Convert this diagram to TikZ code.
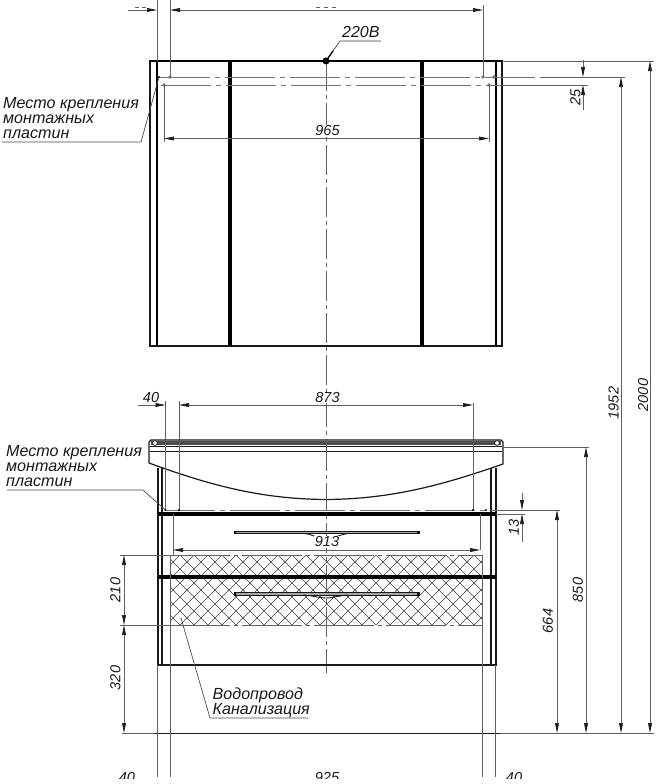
\documentclass[tikz,border=0pt]{standalone}
\usepackage{fontspec}
\setmainfont{Liberation Sans}
\usetikzlibrary{arrows.meta}
\tikzset{
  obj/.style={line width=1.1pt,black!90},
  heavy/.style={line width=3.4pt,black},
  dimline/.style={line width=0.7pt,black!62},
  tipe/.style={-{Stealth[length=10pt,width=3.8pt,inset=0pt,color=black!90]}},
  tipb/.style={{Stealth[length=10pt,width=3.8pt,inset=0pt,color=black!90]}-{Stealth[length=10pt,width=3.8pt,inset=0pt,color=black!90]}},
  axisline/.style={line width=0.6pt,black!55,dash pattern=on 50pt off 5pt on 5pt off 5pt},
  axisv/.style={line width=0.7pt,black!62,dash pattern=on 30pt off 4pt on 4pt off 4pt},
  lbl/.style={inner sep=0pt,font=\itshape\fontsize{14.5}{15}\selectfont,black!90},
  note/.style={inner sep=0pt,anchor=north west,align=left,font=\itshape\fontsize{16.1}{15}\selectfont,black!90},
  dotp/.style={fill=black!55,draw=none},
}
\begin{document}
\begin{tikzpicture}[x=1pt,y=-1pt]
\useasboundingbox (0,0) rectangle (656,784);
\fill[white] (0,0) rectangle (656,784);
% hatching
\begin{scope}
\clip (170.5,555) rectangle (482,625);
\foreach \k in {-100,-86,...,700} {
  \draw[line width=0.55pt,black!75] (\k,555) -- (\k+70,625);
  \draw[line width=0.55pt,black!75] (\k+70,555) -- (\k,625);
}
\end{scope}
% centre axis
\draw[axisv] (326,61) -- (326,673);
% mirror
\draw[line width=1.2pt,black!90] (150,346) -- (150,61) -- (502,61) -- (502,346) -- cycle;
\draw[line width=1.8pt,black] (157,61) -- (157,346) (496,61) -- (496,346) (150,61) -- (502,61);
\draw[heavy] (230,61) -- (230,346) (422,61) -- (422,346);
\fill[black] (326,61) circle (3.5);
% mirror axis lines
\draw[axisline] (160,77) -- (540,77);
\draw[dimline] (540,77) -- (625,77);
\draw[axisline] (161,85) -- (500,85);
\draw[dimline] (500,85) -- (588,85);
\draw[dimline] (502,61) -- (654,61);
\foreach \p in {(170,77),(483,77),(494,77),(164,85),(489,85)} \fill[dotp] \p circle (1.8);
% top dimension
\draw[dimline] (157,0) -- (157,61) (170,0) -- (170,77) (483,5) -- (483,77);
\draw[dimline,tipe] (128,10) -- (157,10);
\draw[dimline,tipb] (170,10) -- (483,10);
\draw[dimline] (135,7) -- (139,7) (142,7) -- (146,7) (316,7) -- (320,7) (324,7) -- (328,7) (332,7) -- (336,7);
% 965
\draw[dimline] (164,85) -- (164,142) (489,85) -- (489,142);
\draw[dimline,tipb] (164,138.5) -- (489,138.5);
\node[lbl,fill=white,inner xsep=1pt] (t965) at (327.5,130.5) {965};
% 25
\draw[dimline,tipe] (583,60) -- (583,77);
\draw[dimline,tipe] (583,110) -- (583,85);
\node[lbl,rotate=90] (t25) at (575.5,97) {25};
% leaders top
\coordinate (m1) at (159,77);
\coordinate (m2) at (141,142);
\coordinate (m3) at (2,142);
\draw[line width=0.7pt,black!70] (m1) -- (m2) -- (m3);
\fill[black] (159,77) circle (1.2);
\node[note] (n1) at (3,97.5) {Место крепления\\монтажных\\пластин};
% 220
\coordinate (p1) at (326,61);
\coordinate (p2) at (340,41);
\coordinate (p3) at (381,41);
\draw[line width=0.7pt,black!75] (p1) -- (p2) -- (p3);
\draw[line width=1.3pt,black] (326,61) -- (333,51);
\node[note,font=\itshape\fontsize{16}{15}\selectfont] (t220) at (342,26.5) {220В};
% long dims right
\draw[dimline,tipb] (621,77) -- (621,733);
\draw[dimline,tipb] (650,61) -- (650,733);
\node[lbl,rotate=90] (t1952) at (613.5,403) {1952};
\node[lbl,rotate=90] (t2000) at (643,395) {2000};
% base
\draw[dimline] (500,733) -- (654,733) (122,733) -- (155,733);
\draw[line width=1pt,black!90] (155,733) -- (500,733);
% 873 / 40
\draw[dimline] (165.5,401) -- (165.5,510) (179,401) -- (179,510) (473,403) -- (473,510);
\draw[dimline,tipe] (138,405) -- (165.5,405);
\draw[dimline,tipb] (179,405) -- (473,405);
\node[lbl] (t40a) at (151,397.5) {40};
\node[lbl,fill=white,inner xsep=1pt] (t873) at (327.5,397.5) {873};
% sink
\draw[line width=1.2pt,black!90,fill=white] (151,440) -- (501,440) -- (503,442) -- (503,464)
  .. controls (440,486) and (390,499) .. (326,499.5)
  .. controls (262,499) and (212,486) .. (149,463) -- (149,442) -- cycle;
\fill[black!70] (151,440.5) rectangle (501,444.5);
\draw[line width=1pt,black!90] (150,446) -- (502,446) (150,451) -- (502,451);
\fill[white] (155,443) circle (2.4) (497,443) circle (2.4);
\draw[line width=0.7pt,black!90] (155,443) circle (2.4) (497,443) circle (2.4);
\draw[dimline] (165.5,440) -- (165.5,500) (179,440) -- (179,500) (473,440) -- (473,500);
\draw[axisv] (326,441) -- (326,500);
% cabinet
\draw[line width=1.2pt,black!90] (158,468) -- (158,665) -- (496,665) -- (496,468);
\draw[line width=1.1pt,black!90] (162,468) -- (162,665) (491,468) -- (491,665);
\draw[heavy] (158,514) -- (496,514);
\draw[heavy] (158,577) -- (496,577);
% handles
\draw[line width=1pt,black!90,fill=black!35] (234,531) rectangle (419,533.5);
\draw[line width=0.9pt,black!90] (305,533.5) .. controls (315,535) and (320,540) .. (326,540) .. controls (332,540) and (337,535) .. (348,533.5);
\draw[line width=1pt,black!90,fill=black!35] (234,592.5) rectangle (419,595);
\draw[line width=0.9pt,black!90] (303,595) .. controls (315,596) and (320,598) .. (326,598) .. controls (332,598) and (337,596) .. (348,595);
\fill[black] (234,531) rectangle (236,533.5) (417,531) rectangle (419,533.5) (234,592.5) rectangle (236,595) (417,592.5) rectangle (419,595);
% axis 510
\draw[axisline] (165,510) -- (490,510);
\draw[dimline] (490,510) -- (560,510) (496,514) -- (525,514);
\fill[black] (473,510) circle (1.1) (486,510) circle (1.1) (165.5,510) circle (1.1) (179,510) circle (1.1);
% 13
\draw[dimline,tipe] (522,493) -- (522,510);
\draw[dimline,tipe] (522,542) -- (522,514);
\node[lbl,rotate=90] (t13) at (514,527) {13};
% 664 850
\draw[dimline,tipb] (557,510) -- (557,733);
\node[lbl,rotate=90] (t664) at (548,621) {664};
\draw[dimline] (503,447) -- (589,447);
\draw[dimline,tipb] (586,447) -- (586,733);
\node[lbl,rotate=90] (t850) at (578,590) {850};
% 913
\draw[dimline] (173,514) -- (173,555) (480,514) -- (480,550);
\draw[dimline,tipb] (173,550) -- (480,550);
\node[lbl,fill=white,inner xsep=1pt,inner ysep=0.5pt] (t913) at (327,542) {913};
% hatch boundary lines
\draw[dimline] (120,555) -- (170,555) (120,625) -- (170,625);
\draw[line width=0.7pt,black!62,dash pattern=on 60pt off 4pt on 4pt off 4pt] (170,555) -- (482,555) (170,625) -- (482,625);
\draw[dimline] (170,555) -- (170,777) (157.5,665) -- (157.5,777) (482,555) -- (482,777) (495,665) -- (495,777);
% 210 320
\draw[dimline,tipb] (124,555) -- (124,625);
\draw[dimline,tipb] (124,625) -- (124,733);
\node[lbl,rotate=90] (t210) at (115.5,590) {210};
\node[lbl,rotate=90] (t320) at (115.5,678) {320};
% bottom text, cut off as the reference prints it
\begin{scope}
\clip (0,0) rectangle (656,778);
\node[lbl] (t40b) at (127,777.5) {40};
\node[lbl] (t925) at (327,777.5) {925};
\node[lbl] (t40c) at (514,777.5) {40};
\end{scope}
% leader lower
\coordinate (q1) at (165.5,510);
\coordinate (q2) at (143,490);
\coordinate (q3) at (7,490);
\draw[line width=0.7pt,black!70] (q1) -- (q2) -- (q3);
\node[note] (n2) at (6,445) {Место крепления\\монтажных\\пластин};
% leader water
\coordinate (w1) at (181,618);
\coordinate (w2) at (210,718);
\coordinate (w3) at (308,718);
\draw[line width=0.7pt,black!70] (w1) -- (w2) -- (w3);
\node[note] (n3) at (212.5,687.5) {Водопровод\\Канализация};
\end{tikzpicture}
\end{document}
